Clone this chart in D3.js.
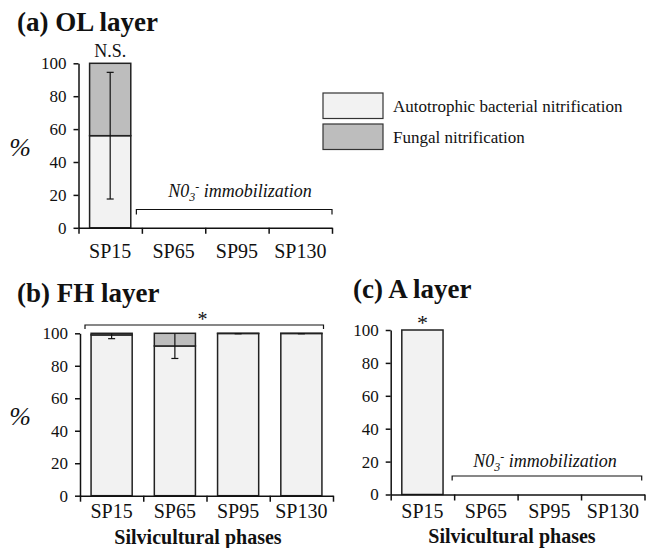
<!DOCTYPE html>
<html>
<head>
<meta charset="utf-8">
<script src="https://cdn.jsdelivr.net/npm/d3@7"></script>
<style>
  body { margin: 0; background: #fff; }
  svg text { font-family: "Liberation Serif", Tinos, "Times New Roman", "DejaVu Serif", serif; fill: #111; }
</style>
</head>
<body>
<div id="plot"></div>
<script>
// categories
const phases = ["SP15", "SP65", "SP95", "SP130"];
const yTicks = [0, 20, 40, 60, 80, 100];

// (a) OL layer
const olAuto = [56, null, null, null];
const olFungal = [44, null, null, null];
const olErr = [38.5, null, null, null];

// (b) FH layer
const fhAuto = [99, 92.2, 99.9, 99.9];
const fhFungal = [1, 7.8, 0.1, 0.1];
const fhErr = [2.3, 7.7, 0.2, 0.2];

// (c) A layer
const aAuto = [100, null, null, null];
const aFungal = [0, null, null, null];
const aErr = [0, null, null, null];

const legendLabels = ["Autotrophic bacterial nitrification", "Fungal nitrification"];
const colors = ["#f2f2f2", "#bdbdbd"];
const serif = '"Liberation Serif", Tinos, "Times New Roman", "DejaVu Serif", serif';

const svg = d3.select("#plot")
  .append("svg")
  .attr("width", 646)
  .attr("height", 548)
  .attr("font-family", serif);

function panel(opt) {
  const x = d3.scaleBand()
    .domain(phases)
    .range([opt.x0, opt.x1])
    .paddingInner(0.35)
    .paddingOuter(0.175);

  const xb = d3.scaleLinear().domain([0, phases.length]).range([opt.x0, opt.x1]);

  const y = d3.scaleLinear()
    .domain([0, 100])
    .range([opt.yBot, opt.yTop]);

  const g = svg.append("g");

  // bars
  const rows = phases.map((p, i) => ({ p, a: opt.auto[i], f: opt.fungal[i], e: opt.err[i] }))
    .filter(d => d.a != null);

  g.selectAll(".auto")
    .data(rows)
    .enter()
    .append("rect")
    .attr("x", d => x(d.p))
    .attr("y", d => y(d.a))
    .attr("width", x.bandwidth())
    .attr("height", d => y(0) - y(d.a))
    .attr("fill", colors[0])
    .attr("stroke", "#222")
    .attr("stroke-width", 1.5);

  g.selectAll(".fungal")
    .data(rows.filter(d => d.f > 0))
    .enter()
    .append("rect")
    .attr("x", d => x(d.p))
    .attr("y", d => y(d.a + d.f))
    .attr("width", x.bandwidth())
    .attr("height", d => y(d.a) - y(d.a + d.f))
    .attr("fill", colors[1])
    .attr("stroke", "#222")
    .attr("stroke-width", 1.5);

  // error bars
  const eb = g.selectAll(".err")
    .data(rows.filter(d => d.e > 0))
    .enter()
    .append("g")
    .attr("stroke", "#111")
    .attr("stroke-width", 1.2);

  const cx = d => x(d.p) + x.bandwidth() / 2;
  const hi = d => Math.min(100, d.a + d.e);
  eb.append("line")
    .attr("x1", cx).attr("x2", cx)
    .attr("y1", d => y(d.a - d.e))
    .attr("y2", d => y(hi(d)));
  eb.append("line")
    .attr("x1", d => cx(d) - 3.5).attr("x2", d => cx(d) + 3.5)
    .attr("y1", d => y(d.a - d.e)).attr("y2", d => y(d.a - d.e));
  eb.filter(d => d.a + d.e < 99.5)
    .append("line")
    .attr("x1", d => cx(d) - 3.5).attr("x2", d => cx(d) + 3.5)
    .attr("y1", d => y(d.a + d.e)).attr("y2", d => y(d.a + d.e));

  // y axis
  const ya = g.append("g")
    .attr("transform", `translate(${opt.x0},0)`)
    .call(d3.axisLeft(y).tickValues(yTicks).tickSize(5).tickSizeOuter(0).tickPadding(7));
  ya.attr("font-family", serif).attr("font-size", 17);

  // x axis with boundary ticks
  g.append("g")
    .attr("transform", `translate(0,${opt.yBot})`)
    .call(d3.axisBottom(xb).tickValues(d3.range(phases.length + 1)).tickSize(6).tickSizeOuter(0).tickFormat(""));

  g.append("g")
    .attr("transform", `translate(0,${opt.yBot})`)
    .call(d3.axisBottom(x).tickSize(0).tickPadding(opt.labelPad))
    .call(s => s.select(".domain").remove())
    .attr("font-family", serif)
    .attr("font-size", 20);

  g.selectAll(".domain, .tick line").attr("stroke", "#111").attr("stroke-width", 1.5);

  // title
  g.append("text")
    .attr("x", opt.titleX)
    .attr("y", opt.titleY)
    .attr("font-size", "27px")
    .attr("font-weight", "bold")
    .text(opt.title);

  if (opt.pct) {
    g.append("text")
      .attr("x", opt.pctX)
      .attr("y", (opt.yTop + opt.yBot) / 2 + 10)
      .attr("text-anchor", "middle")
      .attr("font-size", "26px")
      .attr("font-style", "italic")
      .text("%");
  }

  if (opt.xTitle) {
    g.append("text")
      .attr("x", opt.xTitleX)
      .attr("y", opt.yBot + 48)
      .attr("text-anchor", "middle")
      .attr("font-size", "20px")
      .attr("font-weight", "bold")
      .text("Silvicultural phases");
  }

  return { x, xb, y, g };
}

function bracket(g, x1, x2, yy, drop) {
  g.append("path")
    .attr("d", `M${x1},${yy + drop}V${yy}H${x2}V${yy + drop}`)
    .attr("fill", "none")
    .attr("stroke", "#111")
    .attr("stroke-width", 1.2);
}

function immobilization(g, cx, base) {
  const t = g.append("text")
    .attr("x", cx)
    .attr("y", base)
    .attr("text-anchor", "middle")
    .attr("font-size", "18px")
    .attr("font-style", "italic");
  t.append("tspan").text("N0");
  t.append("tspan").attr("font-size", "12px").attr("dy", 4).text("3");
  t.append("tspan").attr("font-size", "12px").attr("dy", -10).text("-");
  t.append("tspan").attr("dy", 6).text(" immobilization");
}

// (a)
const pa = panel({
  x0: 78.5, x1: 332, yTop: 63.3, yBot: 227.8,
  auto: olAuto, fungal: olFungal, err: olErr,
  title: "(a) OL layer", titleX: 17, titleY: 31,
  pct: true, pctX: 20, labelPad: 16, xTitle: false
});
pa.g.append("text")
  .attr("x", pa.x("SP15") + pa.x.bandwidth() / 2)
  .attr("y", 57)
  .attr("text-anchor", "middle")
  .attr("font-size", "18px")
  .text("N.S.");
bracket(pa.g, pa.xb(1) - 5.5, pa.xb(4), 209.5, 5);
immobilization(pa.g, (pa.xb(1) + pa.xb(4)) / 2 + 3, 197);

// (b)
const pb = panel({
  x0: 80, x1: 333, yTop: 333.3, yBot: 495.7,
  auto: fhAuto, fungal: fhFungal, err: fhErr,
  title: "(b) FH  layer", titleX: 17, titleY: 302,
  pct: true, pctX: 20, labelPad: 8, xTitle: true, xTitleX: 198
});
bracket(pb.g, 85, 323.5, 325, 4);
pb.g.append("text")
  .attr("x", 202.5)
  .attr("y", 326)
  .attr("text-anchor", "middle")
  .attr("font-size", "20px")
  .text("*");

// (c)
const pc = panel({
  x0: 390.7, x1: 644.5, yTop: 330, yBot: 494.5,
  auto: aAuto, fungal: aFungal, err: aErr,
  title: "(c) A layer", titleX: 353, titleY: 298,
  pct: false, labelPad: 9, xTitle: true, xTitleX: 512
});
pc.g.append("text")
  .attr("x", pc.x("SP15") + pc.x.bandwidth() / 2)
  .attr("y", 330)
  .attr("text-anchor", "middle")
  .attr("font-size", "22px")
  .text("*");
bracket(pc.g, pc.xb(1) - 2, 641.7, 476, 4.5);
immobilization(pc.g, 545, 467);

// legend
const legend = svg.append("g");
legend.selectAll("rect")
  .data(legendLabels)
  .enter()
  .append("rect")
  .attr("x", 323)
  .attr("y", (d, i) => 93 + i * 31)
  .attr("width", 60)
  .attr("height", 25.5)
  .attr("fill", (d, i) => colors[i])
  .attr("stroke", "#333")
  .attr("stroke-width", 1.2);
legend.selectAll("text")
  .data(legendLabels)
  .enter()
  .append("text")
  .attr("x", 393)
  .attr("y", (d, i) => 112 + i * 31)
  .attr("font-size", "17px")
  .text(d => d);
</script>
</body>
</html>
